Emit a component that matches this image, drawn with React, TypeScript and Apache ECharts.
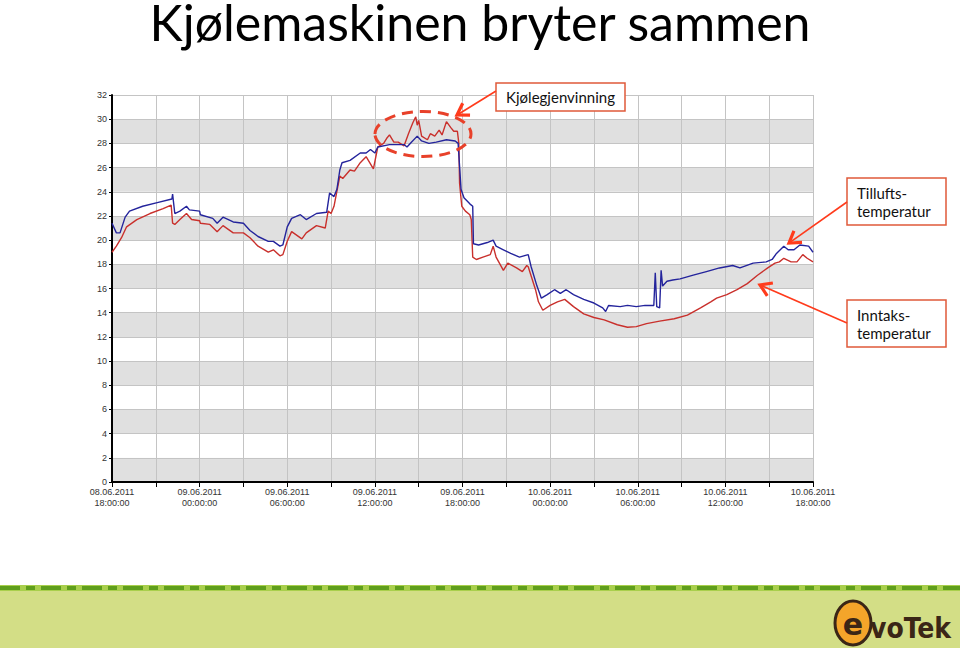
import React, { useEffect, useRef } from "react";
import * as echarts from "echarts";

// hours after 08.06.2011 18:00:00, temperature °C
const tilluftsTemp: [number, number][] = [
  [0, 21.4], [0.3, 20.6], [0.55, 20.6], [0.9, 21.9], [1.2, 22.4], [2.1, 22.8], [3.1, 23.1], [4.1, 23.4],
  [4.15, 23.8], [4.3, 22.2], [4.65, 22.4], [5.1, 22.8], [5.3, 22.5], [6.0, 22.4], [6.05, 22.1], [6.9, 21.8],
  [7.2, 21.4], [7.6, 21.9], [8.3, 21.5], [9.0, 21.4], [9.45, 20.8], [10.0, 20.3], [10.7, 19.9], [11.05, 19.9],
  [11.5, 19.5], [11.7, 19.6], [12.0, 21.1], [12.3, 21.8], [12.9, 22.1], [13.3, 21.7], [14.0, 22.2], [14.7, 22.3],
  [14.9, 23.9], [15.2, 23.6], [15.4, 24.2], [15.6, 25.8], [15.75, 26.4], [16.3, 26.6], [17.0, 27.2], [17.4, 27.2],
  [17.7, 27.5], [18.0, 27.2], [18.2, 27.7], [19.0, 27.9], [20.0, 27.9], [20.2, 27.7], [20.5, 28.1], [20.9, 28.6],
  [21.2, 28.2], [21.7, 28.0], [22.2, 28.1], [22.9, 28.3], [23.5, 28.2], [23.7, 28.0], [23.8, 26.1], [23.9, 24.2],
  [24.1, 23.5], [24.5, 23.0], [24.7, 22.8], [24.75, 19.7], [25.1, 19.6], [25.7, 19.8], [26.1, 20.0], [26.3, 19.5],
  [26.8, 19.2], [27.3, 18.9], [27.9, 18.6], [28.5, 18.8], [28.7, 17.8], [29.1, 16.2], [29.4, 15.2], [29.8, 15.5],
  [30.3, 15.9], [30.7, 15.6], [31.1, 15.9], [31.6, 15.5], [32.3, 15.1], [33.0, 14.8], [33.6, 14.4], [33.8, 14.1],
  [34.0, 14.6], [34.8, 14.5], [35.3, 14.6], [35.9, 14.5], [36.5, 14.6], [37.1, 14.6], [37.2, 17.3], [37.3, 14.5],
  [37.5, 14.4], [37.6, 17.5], [37.7, 16.2], [38.0, 16.6], [38.4, 16.7], [38.9, 16.8], [39.8, 17.1], [40.7, 17.4],
  [41.6, 17.7], [42.5, 17.9], [43.0, 17.7], [43.9, 18.1], [44.8, 18.2], [45.2, 18.4], [45.5, 18.9], [46.0, 19.5],
  [46.3, 19.2], [46.7, 19.2], [47.1, 19.6], [47.7, 19.5], [48.0, 19.0],
];

const inntaksTemp: [number, number][] = [
  [0, 19.0], [0.3, 19.5], [0.65, 20.2], [1.0, 21.1], [1.7, 21.7], [2.6, 22.2], [3.5, 22.6], [4.05, 22.9],
  [4.15, 21.4], [4.3, 21.3], [4.65, 21.7], [5.1, 22.2], [5.45, 21.7], [6.0, 21.6], [6.05, 21.4], [6.7, 21.3],
  [7.2, 20.7], [7.6, 21.2], [8.3, 20.6], [9.0, 20.6], [9.45, 20.2], [10.0, 19.5], [10.7, 19.0], [11.05, 19.2],
  [11.5, 18.7], [11.7, 18.8], [12.0, 19.9], [12.3, 20.7], [13.0, 20.1], [13.3, 20.6], [14.0, 21.2], [14.6, 21.0],
  [14.8, 22.4], [15.0, 22.2], [15.2, 22.8], [15.6, 25.3], [15.8, 25.1], [16.3, 25.8], [16.6, 25.7], [17.0, 26.4],
  [17.4, 26.9], [17.9, 25.9], [18.2, 27.7], [18.6, 28.0], [18.8, 28.4], [19.0, 28.7], [19.3, 28.1], [19.6, 28.1],
  [20.0, 27.8], [20.3, 28.8], [20.6, 29.7], [20.8, 30.2], [20.9, 29.5], [21.0, 29.9], [21.2, 28.6], [21.6, 28.3],
  [21.8, 28.8], [22.1, 28.6], [22.4, 29.1], [22.6, 28.7], [22.9, 29.8], [23.2, 29.3], [23.4, 29.0], [23.65, 29.0],
  [23.75, 28.0], [23.8, 24.7], [23.95, 22.8], [24.2, 22.4], [24.5, 22.1], [24.6, 21.7], [24.7, 18.6], [24.95, 18.4],
  [25.4, 18.6], [25.9, 18.8], [26.1, 19.5], [26.3, 18.6], [26.8, 17.5], [27.1, 18.1], [27.7, 17.7], [28.1, 17.4],
  [28.4, 17.9], [28.5, 17.8], [29.0, 15.9], [29.2, 14.9], [29.5, 14.2], [30.0, 14.6], [30.5, 14.9], [31.0, 15.1],
  [31.6, 14.5], [32.3, 13.9], [33.0, 13.6], [33.7, 13.4], [34.6, 13.0], [35.3, 12.8], [35.9, 12.85], [36.6, 13.1],
  [37.5, 13.3], [38.5, 13.5], [39.4, 13.8], [40.3, 14.4], [41.0, 14.9], [41.4, 15.2], [42.1, 15.5], [42.8, 15.9],
  [43.5, 16.4], [44.2, 17.1], [44.9, 17.7], [45.4, 18.1], [45.7, 18.2], [46.0, 18.5], [46.5, 18.2], [46.9, 18.2],
  [47.3, 18.8], [47.6, 18.5], [48.0, 18.2],
];

const xTickLabels = [
  "08.06.2011\n18:00:00", "09.06.2011\n00:00:00", "09.06.2011\n06:00:00", "09.06.2011\n12:00:00",
  "09.06.2011\n18:00:00", "10.06.2011\n00:00:00", "10.06.2011\n06:00:00", "10.06.2011\n12:00:00",
  "10.06.2011\n18:00:00",
];

const titleText = "Kjølemaskinen bryter sammen";
const noteCooling = "Kjølegjenvinning";
const noteSupply = "Tillufts-\ntemperatur";
const noteIntake = "Inntaks-\ntemperatur";

const ARROW = "#ff3b1c";
const BOX = "#e0593a";

function arrow(tail: number[], tip: number[]) {
  const dx = tip[0] - tail[0];
  const dy = tip[1] - tail[1];
  const L = Math.hypot(dx, dy);
  const ux = dx / L, uy = dy / L;
  const nx = -uy, ny = ux;
  const len = 11, half = 7;
  return [
    { type: "line", shape: { x1: tail[0], y1: tail[1], x2: tip[0] - ux * 2, y2: tip[1] - uy * 2 }, style: { stroke: ARROW, lineWidth: 1.6 }, z: 100 },
    {
      type: "polyline",
      shape: {
        points: [
          [tip[0] - ux * len + nx * half, tip[1] - uy * len + ny * half],
          [tip[0], tip[1]],
          [tip[0] - ux * len - nx * half, tip[1] - uy * len - ny * half],
        ],
      },
      style: { stroke: ARROW, lineWidth: 3.2, fill: null },
      z: 100,
    },
  ];
}

function box(x: number, y: number, w: number, h: number, text: string, tx: number, align: string) {
  return [
    { type: "rect", shape: { x, y, width: w, height: h }, style: { fill: "#fff", stroke: BOX, lineWidth: 1.5 }, z: 100 },
    {
      type: "text",
      x: tx,
      y: y + h / 2,
      style: { text, font: "15px Lato", fill: "#111", textAlign: align, textVerticalAlign: "middle", lineHeight: 18 },
      z: 101,
    },
  ];
}

export default function App() {
  const ref = useRef<HTMLDivElement>(null);
  useEffect(() => {
    if (!ref.current) return;
    const chart = echarts.init(ref.current, null, { renderer: "svg" });
    chart.setOption({
      animation: false,
      backgroundColor: "#ffffff",
      grid: { left: 112, right: 147, top: 95, bottom: 166 },
      xAxis: {
        type: "value",
        min: 0,
        max: 48,
        interval: 3,
        axisLine: { show: true, onZero: false, lineStyle: { color: "#000", width: 2 } },
        axisTick: { show: true, length: 5, lineStyle: { color: "#000", width: 1 } },
        splitLine: { show: true, lineStyle: { color: "#c4c4c4", width: 1 } },
        axisLabel: {
          formatter: (v: number) => (v % 6 === 0 ? xTickLabels[v / 6] : ""),
          fontFamily: "Liberation Sans",
          fontSize: 9,
          color: "#333",
          lineHeight: 11,
          margin: 4,
          showMinLabel: true,
          showMaxLabel: true,
        },
      },
      yAxis: {
        type: "value",
        min: 0,
        max: 32,
        interval: 2,
        axisLine: { show: true, lineStyle: { color: "#000", width: 2 } },
        axisTick: { show: true, length: 3, lineStyle: { color: "#000" } },
        splitLine: { show: true, lineStyle: { color: "#c4c4c4", width: 1 } },
        splitArea: { show: true, areaStyle: { color: ["#e0e0e0", "#ffffff"] } },
        axisLabel: { fontFamily: "Liberation Sans", fontSize: 9, color: "#333", margin: 5 },
      },
      series: [
        {
          name: "Inntakstemperatur",
          type: "line",
          data: inntaksTemp,
          showSymbol: false,
          lineStyle: { color: "#c9302c", width: 1.4 },
          z: 3,
        },
        {
          name: "Tilluftstemperatur",
          type: "line",
          data: tilluftsTemp,
          showSymbol: false,
          lineStyle: { color: "#24249c", width: 1.4 },
          z: 4,
        },
      ],
      graphic: [
        {
          type: "text",
          x: 480,
          y: 22,
          style: { text: titleText, font: "50px Lato", fill: "#000", textAlign: "center", textVerticalAlign: "middle", lineHeight: 44 },
        },
        {
          type: "ellipse",
          shape: { cx: 423, cy: 134, rx: 48, ry: 22.5 },
          style: { fill: null, stroke: "#e8412a", lineWidth: 3, lineDash: [11, 7] },
          z: 100,
        },
        ...box(496, 83, 129, 28, noteCooling, 560.5, "center"),
        ...arrow([496, 91], [457, 115]),
        ...box(847, 178, 99, 47, noteSupply, 857, "left"),
        ...arrow([847, 202], [789, 243]),
        ...box(847, 300, 99, 47, noteIntake, 857, "left"),
        ...arrow([847, 323], [760, 285]),
        // bottom banner
        { type: "rect", shape: { x: 0, y: 585, width: 960, height: 63 }, style: { fill: "#d3de86" } },
        { type: "rect", shape: { x: 0, y: 585, width: 960, height: 6 }, style: { fill: "#a9cf4c" } },
        {
          type: "line",
          shape: { x1: 0, y1: 588, x2: 960, y2: 588 },
          style: { stroke: "#5f9e1c", lineWidth: 4, lineDash: [20, 6, 9, 6] },
        },
        // logo
        {
          type: "ellipse",
          shape: { cx: 853, cy: 623, rx: 18, ry: 22 },
          style: { fill: "#f4a52a", stroke: "#3a2616", lineWidth: 3 },
        },
        {
          type: "text",
          x: 853,
          y: 624,
          style: { text: "e", font: "bold 30px 'DejaVu Sans'", fill: "#3a2616", textAlign: "center", textVerticalAlign: "middle" },
        },
        {
          type: "text",
          x: 870,
          y: 628,
          style: { text: "voTek", font: "bold 28px 'DejaVu Sans Condensed'", fill: "#3a2616", textAlign: "left", textVerticalAlign: "middle" },
        },
      ],
    });
    return () => chart.dispose();
  }, []);
  return <div ref={ref} style={{ position: "fixed", left: 0, top: 0, width: 960, height: 648 }} />;
}
